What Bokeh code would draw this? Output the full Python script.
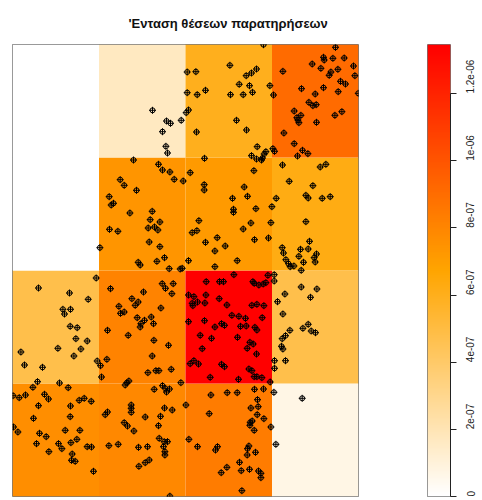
import math
import numpy as np
from bokeh.plotting import figure
from bokeh.layouts import row
from bokeh.models import (Range1d, LinearColorMapper, LinearAxis, FixedTicker,
                          Title, ColumnDataSource)
from bokeh.embed import file_html
from bokeh.resources import INLINE

# ---------------- data ----------------
title_text = "'Ενταση θέσεων παρατηρήσεων"

# observation window and quadrat breaks (map units)
x_breaks = [0, 86.5, 173, 259.5, 346]
y_breaks = [0, 113, 226, 339, 452]

# quadrat intensity (x 1e-7), rows from bottom to top, columns left to right
intensity_rows = [
    [7.65, 7.89, 8.37, 0.72],
    [4.78, 8.13, 13.46, 4.78],
    [0.0, 7.41, 7.17, 6.22],
    [0.0, 1.67, 5.98, 9.09],
]
intensity_scale = 1e-7

tick_values = [0, 2e-07, 4e-07, 6e-07, 8e-07, 1e-06, 1.2e-06]
tick_labels = ["0", "2e-07", "4e-07", "6e-07", "8e-07", "1e-06", "1.2e-06"]

pts_x = [
140.0,154.0,158.0,150.0,168.7,153.4,155.0,174.7,174.7,173.7,176.0,121.0,146.0,150.0,157.4,161.7,170.7,107.7,111.7,124.0,96.7,177.7,
251.0,323.0,311.0,311.7,320.4,331.7,299.7,341.0,308.4,325.4,318.4,316.7,342.4,270.4,217.4,244.0,239.0,233.7,183.4,226.7,237.0,257.4,
261.0,240.0,230.7,218.0,193.0,184.7,328.0,333.0,311.0,289.0,325.7,302.7,345.8,296.4,300.4,303.7,281.7,329.4,322.4,288.4,284.4,285.4,
286.4,304.0,224.0,234.0,184.0,271.4,281.7,290.0,295.4,285.0,244.7,260.4,262.0,253.4,251.7,239.0,244.0,250.0,249.0,192.0,270.0,307.7,
313.4,241.4,191.7,191.7,231.7,276.7,300.4,220.0,235.0,263.7,293.4,295.7,309.7,317.7,
98.7,101.0,117.4,139.7,137.7,147.4,135.7,142.0,145.4,97.0,105.4,87.4,136.7,147.4,152.0,125.7,127.7,144.4,156.7,167.7,169.7,176.0,
83.7,26.0,57.0,75.7,50.4,58.0,52.0,57.7,64.7,63.4,74.7,45.4,68.4,98.0,131.0,149.7,153.0,160.7,159.4,119.4,125.7,122.7,106.4,108.0,
111.7,148.4,138.7,124.7,132.0,128.4,127.7,141.0,95.0,115.7,141.4,156.0,176.0,176.0,
221.0,221.0,243.4,259.4,186.4,179.7,184.4,230.7,238.4,258.4,293.4,193.0,204.7,212.7,202.4,242.0,256.0,297.0,269.7,271.0,288.0,295.7,
304.0,286.4,301.7,302.7,273.4,276.0,277.7,281.4,291.0,288.7,202.4,224.7,221.4,255.4,261.7,261.7,193.7,207.0,211.0,240.4,241.7,246.4,
250.7,253.4,181.4,193.4,206.7,179.7,180.4,185.0,192.4,214.4,239.4,244.4,251.4,272.4,265.0,288.7,304.4,298.0,270.4,192.0,219.4,226.4,
233.0,249.7,209.0,212.0,202.4,228.0,233.7,242.4,244.4,187.7,199.0,225.0,237.4,240.7,189.7,234.7,295.7,290.4,298.7,303.0,277.4,273.0,
269.7,269.0,270.4,
8.4,61.4,12.0,30.0,25.0,47.0,20.4,0.5,6.7,13.0,32.0,36.0,26.0,55.7,84.7,88.0,94.4,89.0,139.7,135.4,143.4,146.4,158.7,168.4,173.4,
114.4,116.4,112.7,141.7,150.0,152.7,157.0,154.0,58.0,66.7,71.7,78.7,92.7,95.0,118.7,118.7,118.7,152.0,159.7,132.7,148.0,21.0,57.7,
1.0,5.4,27.0,33.7,52.7,67.4,111.7,115.0,121.4,146.0,24.0,46.0,49.4,58.4,64.4,36.4,59.7,59.0,62.7,74.7,79.0,96.4,105.7,126.0,135.0,
146.7,151.7,155.0,151.0,152.4,152.4,136.7,132.7,126.4,81.0,157.4,176.4,
244.0,262.0,273.0,262.0,181.4,177.7,186.0,209.0,212.0,236.4,239.4,197.7,226.0,241.7,244.4,249.4,257.7,198.4,214.7,224.7,242.0,251.0,
261.4,289.7,245.0,238.4,245.7,196.7,244.7,251.4,239.7,237.7,237.4,258.4,241.7,185.0,205.0,203.0,236.4,235.0,234.7,243.0,263.4,227.0,
214.4,208.7,228.7,237.0,246.0,248.4,248.4,229.4,
]

pts_y = [
386.2,375.5,373.2,364.8,376.2,350.2,343.5,424.5,403.8,383.8,386.5,336.5,332.2,326.5,324.5,317.2,315.5,316.8,311.2,306.2,299.8,323.8,
451.8,449.2,439.2,436.5,438.2,438.5,432.5,430.5,428.2,427.2,424.5,421.2,420.8,425.2,431.2,427.5,423.5,420.8,424.8,412.2,410.8,410.8,
401.5,404.2,401.8,401.8,406.2,401.8,415.2,412.5,408.8,407.8,404.8,402.5,403.2,394.2,390.8,391.8,385.5,384.8,381.2,381.2,378.8,376.5,
373.8,374.2,376.2,366.5,364.5,363.5,352.8,346.2,342.8,340.5,349.8,347.8,345.2,344.8,342.5,340.8,337.5,338.5,336.5,338.2,331.5,329.5,
332.2,325.8,311.8,306.5,309.5,315.2,310.8,298.2,300.2,298.2,301.2,298.5,298.2,299.8,
291.5,293.2,283.5,285.2,276.8,274.5,268.5,269.5,266.5,267.2,265.2,248.8,254.5,249.8,238.8,234.2,231.5,235.2,227.8,227.5,228.2,235.8,
218.5,208.5,203.5,197.2,187.2,187.2,182.5,170.2,168.8,157.8,155.5,148.2,147.5,207.8,204.5,212.8,208.2,212.8,202.8,197.8,194.5,191.2,190.2,183.2,
184.5,188.5,179.5,178.8,176.2,172.8,169.5,172.8,166.2,161.2,156.2,151.2,201.5,174.8,
287.2,284.2,287.8,289.8,275.8,263.8,265.8,267.5,273.5,273.8,274.8,254.2,258.8,250.5,245.5,256.8,258.5,255.2,248.8,243.5,247.2,247.5,
242.5,240.2,238.8,234.5,236.8,232.8,229.8,230.5,234.2,226.2,229.8,235.8,221.8,221.2,221.8,215.5,214.8,214.8,214.8,214.8,213.2,211.5,
212.5,213.8,199.8,201.5,197.8,193.2,190.8,194.5,193.5,191.5,191.2,192.2,190.8,202.5,194.8,209.5,207.5,199.2,182.5,175.8,181.2,180.2,
178.2,178.8,172.8,171.2,169.5,170.2,170.5,169.2,166.5,161.2,158.2,159.2,154.2,152.5,147.8,148.2,172.2,168.2,165.5,163.8,166.2,160.8,
157.8,150.2,147.5,
144.5,140.5,131.5,129.2,114.8,113.5,109.2,100.8,98.8,101.5,102.2,97.5,90.8,108.8,135.5,130.8,137.2,119.5,140.5,123.8,125.8,125.8,127.2,113.8,91.5,
113.8,115.5,111.5,107.2,110.8,108.2,107.5,104.5,90.5,96.2,98.2,95.2,81.8,84.5,91.5,88.2,84.2,88.5,86.5,79.5,80.2,78.2,79.8,
69.5,64.5,63.2,59.8,66.2,66.2,73.8,70.5,65.5,70.8,52.8,52.8,47.8,53.8,57.2,44.8,42.5,36.2,35.2,49.8,49.5,50.8,52.2,49.2,49.8,
58.2,54.8,54.8,49.8,44.8,41.5,36.5,33.8,30.2,25.2,0.3,57.2,
142.5,135.8,135.8,128.2,135.8,132.8,132.5,132.2,129.8,127.5,125.8,119.2,117.2,119.8,119.8,118.8,114.5,101.5,103.8,103.8,107.2,107.5,
104.2,98.2,96.8,88.5,89.8,82.8,81.8,77.8,75.5,74.2,71.2,69.5,66.2,49.8,49.8,46.5,50.5,47.8,41.5,44.2,52.2,34.2,
29.2,23.8,25.8,27.2,25.5,23.2,18.8,5.8,
]

# ---------------- colour map (white -> orange -> red) ----------------
vmax = max(max(r) for r in intensity_rows) * intensity_scale


def ramp(n=256):
    stops = [(255, 255, 255), (255, 165, 0), (255, 0, 0)]
    out = []
    for i in range(n):
        t = i / (n - 1) * 2
        k = min(int(t), 1)
        f = t - k
        c = [round(stops[k][j] + (stops[k + 1][j] - stops[k][j]) * f) for j in range(3)]
        out.append("#%02x%02x%02x" % tuple(c))
    return out


palette = ramp()
mapper = LinearColorMapper(palette=palette, low=0, high=vmax)

# ---------------- main map ----------------
p = figure(width=400, height=500, output_backend="svg", toolbar_location=None,
           x_range=Range1d(x_breaks[0], x_breaks[-1]),
           y_range=Range1d(y_breaks[0], y_breaks[-1]),
           x_axis_location=None, y_axis_location=None,
           min_border_left=12, min_border_right=42,
           min_border_top=44, min_border_bottom=4)
p.grid.visible = False
p.outline_line_color = "#777777"
p.outline_line_width = 1
p.background_fill_color = "white"
p.border_fill_color = "white"

p.title = Title(text=title_text, text_font="Liberation Sans", text_font_style="bold",
                text_font_size="13px", align="left", offset=116, standoff=27,
                text_color="#111111")

left, right, bottom, top, vals = [], [], [], [], []
for i, r in enumerate(intensity_rows):
    for j, v in enumerate(r):
        left.append(x_breaks[j])
        right.append(x_breaks[j + 1])
        bottom.append(y_breaks[i])
        top.append(y_breaks[i + 1])
        vals.append(v * intensity_scale)

cells = ColumnDataSource(dict(left=left, right=right, bottom=bottom, top=top, val=vals))
p.quad(left="left", right="right", bottom="bottom", top="top", source=cells,
       fill_color={"field": "val", "transform": mapper}, line_color=None)

p.scatter(pts_x, pts_y, marker="circle", size=5, line_color="black",
          fill_color=None, line_width=1)
p.scatter(pts_x, pts_y, marker="cross", size=7, line_color="black",
          line_width=1)

# ---------------- colour ribbon ----------------
pb = figure(width=82, height=500, output_backend="svg", toolbar_location=None,
            x_range=Range1d(0, 1), y_range=Range1d(0, vmax),
            x_axis_location=None, y_axis_location=None,
            min_border_left=27, min_border_right=32,
            min_border_top=44, min_border_bottom=4)
pb.grid.visible = False
pb.outline_line_color = "#777777"
pb.border_fill_color = "white"

grad = np.linspace(0, vmax, 512).reshape(512, 1)
pb.image(image=[grad], x=0, y=0, dw=1, dh=vmax, color_mapper=mapper)

ax = LinearAxis(ticker=FixedTicker(ticks=tick_values),
                major_label_overrides={v: s for v, s in zip(tick_values, tick_labels)})
ax.bounds = (tick_values[0], tick_values[-1])
ax.major_tick_in = 0
ax.major_tick_out = 6
ax.minor_tick_line_color = None
ax.axis_line_color = "#222222"
ax.major_tick_line_color = "#222222"
ax.major_label_orientation = math.pi / 2
ax.major_label_standoff = 14
ax.major_label_text_font = "Liberation Sans"
ax.major_label_text_font_size = "10px"
ax.major_label_text_color = "#222222"
pb.add_layout(ax, "right")

layout = row(p, pb)
open("out.html", "w").write(file_html(layout, INLINE))
